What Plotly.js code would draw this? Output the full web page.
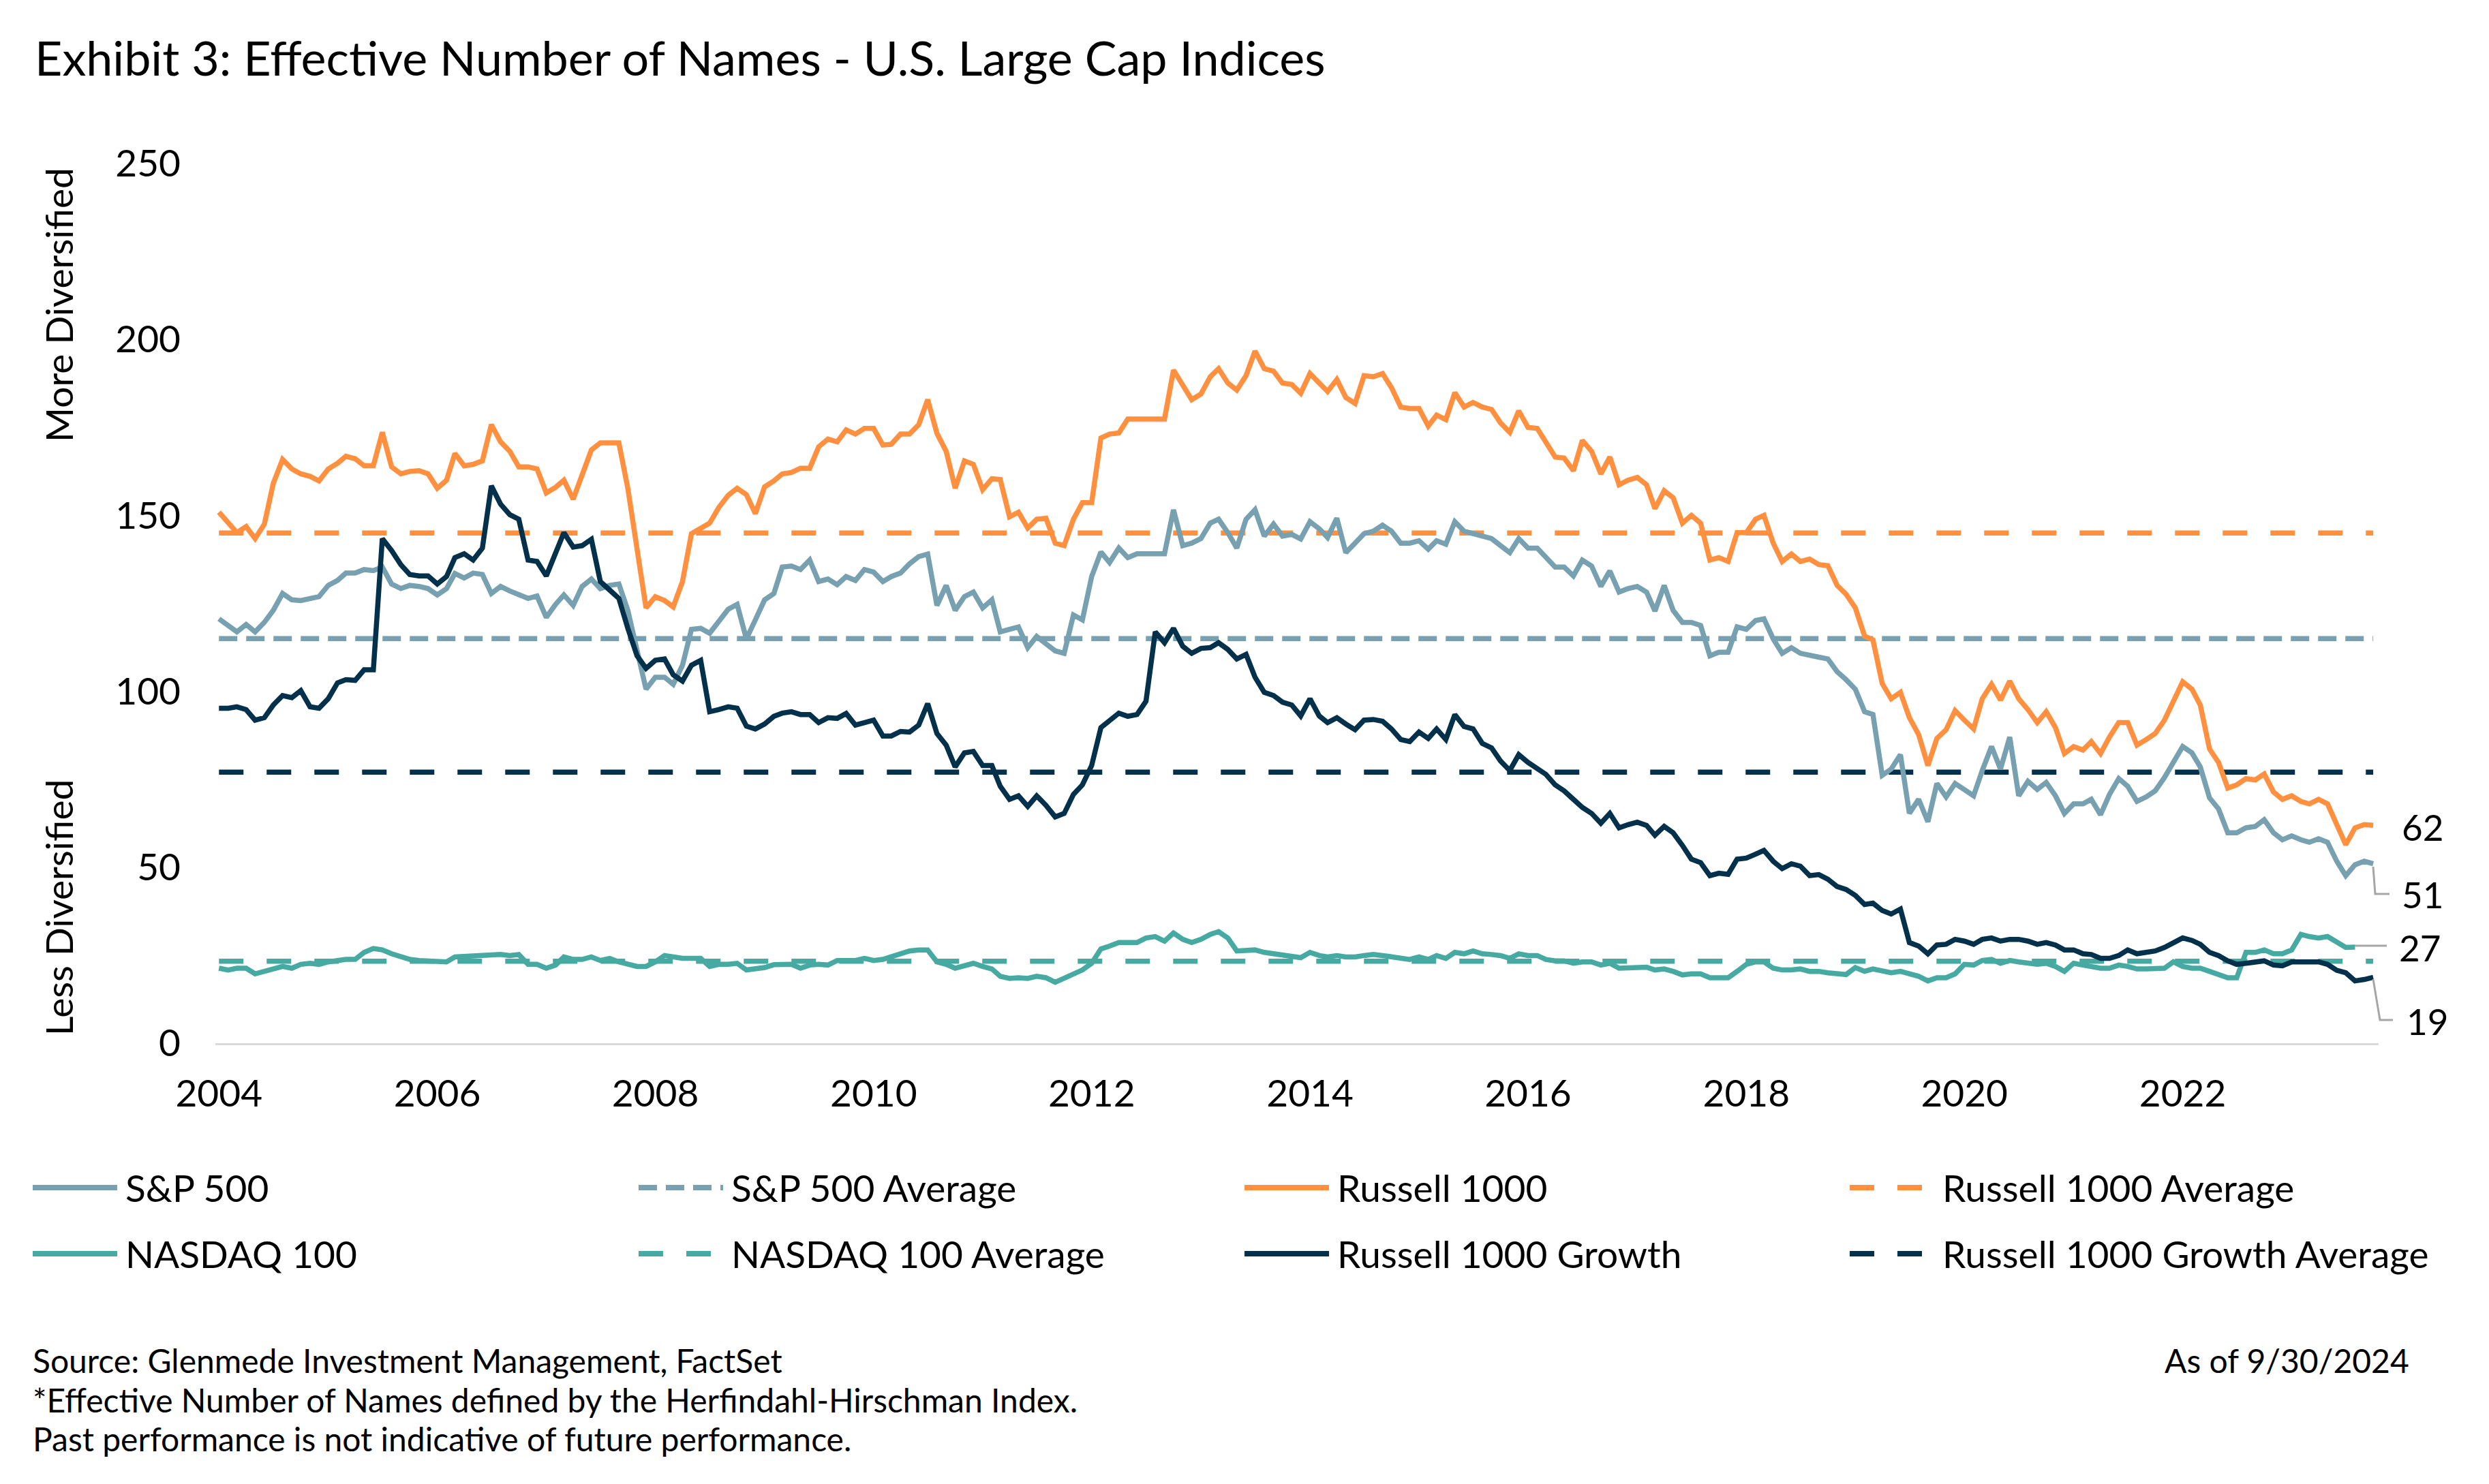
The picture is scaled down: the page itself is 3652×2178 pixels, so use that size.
<!DOCTYPE html>
<html>
<head>
<meta charset="utf-8">
<script src="https://cdn.plot.ly/plotly-3.0.1.min.js"></script>
<style>
html,body{margin:0;padding:0;background:#ffffff;}
#chart{width:3652px;height:2178px;}
</style>
</head>
<body>
<div id="chart"></div>
<script>
// ---------------- DATA (monthly) ----------------
const startYear = 2004;

const sp500 = [
120.6,118.6,116.9,119.0,116.9,119.6,123.0,127.8,126.0,125.8,126.4,126.9,
130.1,131.5,133.6,133.6,134.6,134.3,135.3,130.5,129.2,130.1,129.8,129.2,
127.4,129.2,133.5,132.2,133.6,133.2,127.8,129.8,128.5,127.5,126.4,127.1,
121.0,124.7,127.4,124.4,129.8,131.9,129.2,130.1,130.5,123.0,110.8,100.6,
104.0,104.0,102.0,107.4,117.6,117.9,116.5,120.1,123.3,124.7,114.9,120.3,
126.0,127.8,135.3,135.6,134.6,137.3,131.2,131.9,130.3,132.6,131.5,134.6,
133.9,131.2,132.6,133.6,136.2,138.3,139.0,124.4,130.1,123.0,126.9,128.2,
123.7,126.0,116.9,117.6,118.3,112.4,115.6,113.5,111.5,110.8,121.7,120.3,
132.6,139.6,136.6,140.7,138.0,139.1,139.1,139.1,139.1,151.6,141.4,142.1,
143.4,147.8,148.9,145.1,140.7,148.9,151.6,144.1,147.5,144.1,144.6,143.3,
148.2,146.2,143.7,149.2,139.4,142.1,144.8,145.5,147.2,145.5,142.1,142.1,
142.8,140.4,142.8,141.8,148.2,145.5,144.8,144.1,143.4,141.4,139.4,143.4,
140.7,140.7,138.0,135.3,135.3,132.8,137.3,135.6,129.8,134.2,128.2,129.2,
129.8,128.2,122.8,130.1,123.0,119.6,119.6,118.7,110.1,111.1,111.1,118.3,
117.6,120.1,120.6,114.9,110.8,112.4,110.8,110.1,109.7,109.2,105.6,103.3,
100.6,94.2,93.4,76.1,77.9,82.0,65.3,69.3,62.9,73.8,70.0,73.8,
72.1,70.3,77.5,84.3,77.9,87.0,70.3,74.4,72.1,74.1,70.3,65.3,
68.0,68.0,69.3,64.9,70.7,75.2,73.0,68.7,70.0,71.7,75.5,79.5,
84.3,82.5,78.5,69.7,66.6,59.8,59.8,61.2,61.6,63.5,59.8,57.8,
58.9,57.8,57.1,58.1,57.1,51.7,47.6,50.7,51.7,51.0
];

const russell1000 = [
150.9,147.8,145.1,146.8,143.4,147.5,159.1,165.9,163.2,161.8,161.1,159.8,
163.2,164.8,166.8,166.1,164.1,164.1,173.6,163.8,161.8,162.5,162.7,161.8,
157.7,160.0,167.6,164.1,164.5,165.5,175.8,170.9,168.2,163.8,163.8,163.2,
156.4,158.0,160.0,154.6,161.1,168.6,170.6,170.6,170.6,157.7,140.7,123.7,
126.9,125.8,124.0,131.2,144.8,146.4,147.8,152.3,155.7,157.7,155.9,150.5,
158.1,159.8,161.8,162.2,163.4,163.4,169.5,171.7,170.9,174.3,173.1,174.7,
174.7,170.0,170.2,173.1,173.1,175.8,182.9,173.3,168.2,157.7,165.5,164.5,
157.3,160.4,160.2,149.6,150.9,146.4,148.9,149.2,142.1,141.4,148.9,153.6,
153.6,172.0,173.1,173.4,177.4,177.4,177.4,177.4,177.4,191.3,186.9,182.9,
184.5,189.4,191.7,187.6,185.6,189.7,196.7,191.7,191.0,187.6,187.2,184.7,
190.3,187.8,185.2,188.6,183.5,181.8,189.7,189.4,190.3,186.3,180.8,180.4,
180.4,175.4,178.5,177.2,184.9,180.8,182.1,180.8,180.1,176.3,173.6,179.7,
175.0,174.7,170.6,166.6,166.3,162.7,171.3,168.2,161.8,166.6,158.7,160.0,
160.8,158.7,151.9,157.0,155.0,147.8,150.0,147.8,137.3,138.0,136.9,145.1,
145.1,148.9,150.0,142.1,136.9,139.0,136.9,137.6,136.0,135.7,130.1,127.6,
123.7,115.7,114.6,102.2,97.9,99.7,92.5,87.7,78.9,86.6,89.1,94.5,
91.8,89.3,97.9,102.0,97.5,102.9,97.9,94.8,91.1,94.2,89.7,82.3,
84.3,83.3,85.7,82.3,87.0,91.1,91.1,84.7,86.3,88.0,91.8,97.2,
102.7,100.6,96.1,83.6,79.8,72.5,73.4,75.2,74.8,76.5,71.4,69.3,
70.3,68.7,68.0,69.3,68.0,62.1,56.4,61.2,62.1,61.9
];

const nasdaq100 = [
21.3,20.8,21.3,21.3,19.7,20.4,20.8,21.8,21.3,22.4,22.7,22.4,
23.1,23.5,23.8,23.8,25.8,26.9,26.5,25.4,24.5,23.8,23.5,23.4,
23.2,23.1,24.5,24.7,24.9,24.9,25.2,25.2,24.9,25.2,22.4,22.4,
21.3,22.2,24.5,23.8,23.8,24.5,23.5,24.1,23.1,22.4,21.8,21.8,
23.1,24.9,24.5,24.1,24.1,24.1,21.8,22.4,22.4,22.7,20.8,21.0,
21.5,22.3,22.4,22.4,21.3,22.2,22.4,22.2,23.5,23.5,23.5,24.1,
23.5,23.8,24.5,25.4,26.2,26.5,26.5,23.1,22.4,21.3,22.2,22.7,
21.8,21.1,19.0,18.4,18.6,18.4,19.0,18.6,17.3,18.4,19.4,20.8,
22.7,26.8,27.6,28.6,28.6,28.6,29.9,30.3,29.0,31.3,29.5,28.6,
29.5,30.9,31.7,29.9,26.2,26.2,26.5,25.8,25.4,25.2,24.9,24.3,
25.8,24.9,24.5,24.9,24.5,24.5,24.9,25.2,24.9,24.5,24.1,23.8,
24.5,23.8,24.9,24.1,25.8,25.4,26.2,25.4,25.2,24.9,24.1,25.4,
24.9,24.9,23.8,23.4,23.4,22.7,23.1,23.1,22.2,22.7,21.3,21.3,
21.6,21.6,20.8,21.1,20.4,19.4,19.7,19.7,18.6,18.6,18.6,20.4,
22.4,23.1,23.1,21.3,20.8,20.8,21.1,20.4,20.4,20.0,19.7,19.5,
21.5,20.4,21.1,20.4,20.0,20.4,19.7,19.0,17.7,18.6,18.6,19.7,
22.4,22.2,23.5,23.8,22.7,23.5,23.1,22.7,22.4,22.7,21.8,20.4,
22.7,22.2,21.8,21.3,21.3,22.2,21.8,21.1,21.1,21.3,21.3,23.1,
21.8,21.3,21.3,20.4,19.4,18.6,18.6,25.8,25.8,26.5,25.4,25.4,
26.5,30.9,30.3,29.9,30.3,28.6,27.2,27.3
];

const russell1000Growth = [
95.2,95.2,95.6,94.8,91.8,92.5,96.1,98.8,98.2,100.2,95.6,95.2,
97.9,102.4,103.3,103.1,106.1,106.1,143.4,140.0,136.0,133.2,132.8,132.8,
130.5,132.6,138.0,139.1,137.3,140.7,158.4,153.2,150.2,148.9,137.3,136.9,
132.8,139.4,145.1,141.0,141.4,143.2,131.2,128.8,126.4,117.9,110.1,106.5,
108.8,109.2,104.7,102.9,107.4,108.8,94.2,94.8,95.6,95.2,90.1,89.3,
90.7,92.9,93.8,94.2,93.4,93.4,91.1,92.5,92.3,93.7,90.4,91.1,
91.8,87.3,87.3,88.6,88.4,90.4,96.5,88.0,84.7,78.5,82.5,82.9,
78.9,78.9,73.0,69.3,70.3,67.3,70.3,67.6,64.3,65.3,70.7,73.4,
78.9,89.7,91.8,93.8,92.9,93.4,97.2,116.9,113.8,117.9,112.8,110.8,
112.2,112.4,113.8,111.9,109.2,110.5,104.0,99.7,98.8,96.9,96.1,93.0,
97.9,93.0,91.1,92.5,90.7,89.1,91.8,92.0,91.5,89.3,86.3,85.7,
88.4,86.6,89.3,86.3,93.4,90.0,89.3,85.2,83.9,80.2,77.5,82.0,
79.8,78.2,76.4,73.4,71.7,69.3,67.0,65.3,62.5,65.3,61.2,62.1,
62.8,61.9,59.1,61.6,59.8,56.2,52.3,51.3,47.6,48.3,48.0,52.3,
52.6,53.7,54.8,51.7,49.6,51.0,50.3,47.6,47.9,46.6,44.5,43.7,
42.0,39.4,39.8,37.7,36.7,38.1,28.6,27.6,25.4,27.9,28.1,29.5,
29.0,28.1,29.5,29.9,29.0,29.5,29.5,29.0,28.1,28.6,27.9,26.5,
26.5,25.4,25.2,24.1,24.1,24.9,26.5,25.4,25.8,26.2,27.2,28.6,
29.9,29.2,28.1,25.8,24.9,23.4,22.4,22.7,23.0,23.4,22.2,22.0,
23.1,23.1,23.4,23.1,22.4,20.7,20.0,17.7,18.1,18.7
];

const seriesNames   = ['S&P 500', 'Russell 1000', 'NASDAQ 100', 'Russell 1000 Growth'];
const averageNames  = ['S&P 500 Average', 'Russell 1000 Average', 'NASDAQ 100 Average', 'Russell 1000 Growth Average'];
const averageValues = [115, 145, 23.3, 77];
const xTickYears    = ['2004','2006','2008','2010','2012','2014','2016','2018','2020','2022'];
const yTickValues   = [0, 50, 100, 150, 200, 250];

// ---------------- STYLE ----------------
const FONT = 'Lato, "Open Sans", "DejaVu Sans", sans-serif';
const colors = ['#77A0B0', '#FF9040', '#46AAA2', '#03304A'];
const avgDash = ['27px,13px', '36px,34px', '36px,34px', '36px,34px'];
const LW = 7.5;

// plot-area pixel geometry
const W_PAGE = 3652, H_PAGE = 2178;
const L = 316, R = 3490, T = 240, B = 1531;
const PW = R - L, PH = B - T;
const pxX = x => (x - L) / PW;
const pxY = y => (B - y) / PH;

function monthDate(i) {
  const y = startYear + Math.floor(i / 12);
  const m = (i % 12) + 1;
  return y + '-' + String(m).padStart(2, '0') + '-01';
}
const allSeries = [sp500, russell1000, nasdaq100, russell1000Growth];
const nMax = Math.max(...allSeries.map(s => s.length));
const dates = Array.from({length: nMax}, (_, i) => monthDate(i));

// ---------------- TRACES ----------------
const traces = [];
averageValues.forEach((v, i) => {
  traces.push({
    type: 'scatter', mode: 'lines', name: averageNames[i],
    x: [dates[0], dates[nMax - 1]], y: [v, v],
    line: {color: colors[i], width: LW, dash: avgDash[i]},
    showlegend: false, hoverinfo: 'skip'
  });
});
allSeries.forEach((s, i) => {
  traces.push({
    type: 'scatter', mode: 'lines', name: seriesNames[i],
    x: dates.slice(0, s.length), y: s,
    line: {color: colors[i], width: LW, shape: 'linear'},
    showlegend: false
  });
});

// ---------------- ANNOTATIONS & SHAPES ----------------
const annotations = [];
const shapes = [];
const txt = (text, x, y, size, xanchor, extra) => Object.assign({
  text: text, xref: 'paper', yref: 'paper', x: pxX(x), y: pxY(y),
  xanchor: xanchor || 'left', yanchor: 'middle', showarrow: false,
  font: {family: FONT, size: size, color: '#000000'}
}, extra || {});

// side titles
annotations.push(txt('More Diversified', 86, 448, 55, 'center', {textangle: -90}));
annotations.push(txt('Less Diversified', 86, 1332, 55, 'center', {textangle: -90}));

// end labels (value of the last point)
const endLabelPos = [[3522, 1312], [3522, 1213], [3518, 1390], [3529, 1498]];
allSeries.forEach((s, i) => {
  annotations.push(txt(String(Math.round(s[s.length - 1])), endLabelPos[i][0], endLabelPos[i][1], 53, 'left'));
});
// leader lines
const leader = pts => ({
  type: 'path', xref: 'paper', yref: 'paper',
  path: pts.map((p, k) => (k ? 'L' : 'M') + pxX(p[0]) + ',' + pxY(p[1])).join(' '),
  line: {color: '#A6A6A6', width: 3}
});
shapes.push(leader([[3482, 1272], [3485, 1312], [3506, 1312]]));
shapes.push(leader([[3455, 1388], [3502, 1388]]));
shapes.push(leader([[3482, 1437], [3492, 1497], [3511, 1497]]));

// legend (4 columns x 2 rows)
const legendOrder = [
  {name: seriesNames[0], c: 0, dash: 'solid'},   {name: averageNames[0], c: 0, dash: avgDash[0]},
  {name: seriesNames[1], c: 1, dash: 'solid'},   {name: averageNames[1], c: 1, dash: avgDash[1]},
  {name: seriesNames[2], c: 2, dash: 'solid'},   {name: averageNames[2], c: 2, dash: avgDash[2]},
  {name: seriesNames[3], c: 3, dash: 'solid'},   {name: averageNames[3], c: 3, dash: avgDash[3]}
];
const colX = [48, 937, 1826, 2714];
const rowY = [1743, 1840];
legendOrder.forEach((it, k) => {
  const x0 = colX[k % 4], y0 = rowY[Math.floor(k / 4)];
  shapes.push({
    type: 'line', xref: 'paper', yref: 'paper',
    x0: pxX(x0), x1: pxX(x0 + 124), y0: pxY(y0), y1: pxY(y0),
    line: {color: colors[it.c], width: 8, dash: it.dash}
  });
  annotations.push(txt(it.name, x0 + 134, y0, 55, 'left'));
});

// footer
annotations.push(txt('Source: Glenmede Investment Management, FactSet', 46, 1996, 48, 'left'));
annotations.push(txt('*Effective Number of Names defined by the Herfindahl-Hirschman Index.', 46, 2054, 48, 'left'));
annotations.push(txt('Past performance is not indicative of future performance.', 46, 2111, 48, 'left'));
annotations.push(txt('As of 9/30/2024', 3537, 1996, 48, 'right'));

// ---------------- LAYOUT ----------------
const layout = {
  width: W_PAGE, height: H_PAGE,
  margin: {l: L, r: W_PAGE - R, t: T, b: H_PAGE - B, pad: 0, autoexpand: false},
  paper_bgcolor: '#ffffff', plot_bgcolor: '#ffffff',
  showlegend: false, hovermode: false,
  font: {family: FONT, size: 55, color: '#000000'},
  title: {
    text: 'Exhibit 3: Effective Number of Names - U.S. Large Cap Indices',
    xref: 'container', yref: 'container',
    x: 51 / W_PAGE, xanchor: 'left', y: 1 - 86 / H_PAGE, yanchor: 'middle',
    font: {family: FONT, size: 70, color: '#000000'}
  },
  xaxis: {
    type: 'date',
    range: ['2003-12-20', '2023-10-19'],
    tickmode: 'array',
    tickvals: xTickYears.map(y => y + '-01-01'),
    ticktext: xTickYears,
    showgrid: false, zeroline: false,
    showline: true, linecolor: '#D9D9D9', linewidth: 3,
    ticks: '', ticklabelstandoff: 24,
    tickfont: {family: FONT, size: 55, color: '#000000'}
  },
  yaxis: {
    range: [0, 250],
    tickmode: 'array', tickvals: yTickValues,
    showgrid: false, zeroline: false, showline: false,
    ticks: '', ticklabelstandoff: 50,
    tickfont: {family: FONT, size: 55, color: '#000000'}
  },
  annotations: annotations,
  shapes: shapes
};

Plotly.newPlot('chart', traces, layout, {staticPlot: true, displayModeBar: false});
</script>
</body>
</html>
